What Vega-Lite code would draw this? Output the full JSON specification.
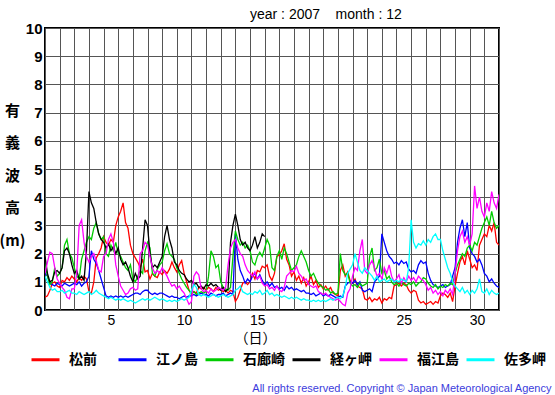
{
"$schema": "https://vega.github.io/schema/vega-lite/v6.json",
"width": 454, "height": 282,
"autosize": {"type": "none"},
"padding": {"left": 45, "top": 28, "right": 56, "bottom": 85},
"background": "white",
"config": {"view": {"stroke": "black", "strokeWidth": 2}},
"title": {"text": "year : 2007\u00a0\u00a0\u00a0 month : 12", "anchor": "start", "frame": "group", "dx": 205, "fontSize": 14, "fontWeight": "normal", "font": "Liberation Sans", "color": "black", "offset": -1},
"data": {"values": [
{"t":1,"松前":0.45,"江ノ島":1.3,"石廊崎":1.65,"経ヶ岬":1.9,"福江島":1.3,"佐多岬":1.2},
{"t":1.167,"松前":0.5,"江ノ島":1.2,"石廊崎":1.2,"経ヶ岬":1.3,"福江島":1.7,"佐多岬":1.0},
{"t":1.333,"松前":0.7,"江ノ島":0.95,"石廊崎":0.9,"経ヶ岬":1.0,"福江島":2.05,"佐多岬":0.8},
{"t":1.5,"松前":0.95,"江ノ島":0.9,"石廊崎":1.0,"経ヶ岬":1.05,"福江島":2.0,"佐多岬":0.7},
{"t":1.667,"松前":1.0,"江ノ島":0.85,"石廊崎":1.5,"経ヶ岬":1.35,"福江島":1.5,"佐多岬":0.75},
{"t":1.833,"松前":0.85,"江ノ島":0.95,"石廊崎":1.2,"経ヶ岬":1.4,"福江島":1.1,"佐多岬":0.65},
{"t":2,"松前":0.8,"江ノ島":0.9,"石廊崎":1.3,"経ヶ岬":1.3,"福江島":0.95,"佐多岬":0.65},
{"t":2.167,"松前":1.05,"江ノ島":0.85,"石廊崎":1.5,"経ヶ岬":1.5,"福江島":0.8,"佐多岬":0.7},
{"t":2.333,"松前":1.0,"江ノ島":0.95,"石廊崎":2.3,"経ヶ岬":2.1,"福江島":0.7,"佐多岬":0.6},
{"t":2.5,"松前":1.15,"江ノ島":0.9,"石廊崎":2.5,"経ヶ岬":2.2,"福江島":0.45,"佐多岬":0.65},
{"t":2.667,"松前":1.05,"江ノ島":0.85,"石廊崎":2.0,"経ヶ岬":2.0,"福江島":0.4,"佐多岬":0.7},
{"t":2.833,"松前":1.2,"江ノ島":0.9,"石廊崎":1.85,"経ヶ岬":1.6,"福江島":0.75,"佐多岬":0.6},
{"t":3,"松前":1.1,"江ノ島":0.95,"石廊崎":1.5,"経ヶ岬":1.3,"福江島":0.75,"佐多岬":0.6},
{"t":3.167,"松前":1.0,"江ノ島":0.9,"石廊崎":1.2,"経ヶ岬":1.4,"福江島":1.3,"佐多岬":0.55},
{"t":3.333,"松前":1.15,"江ノ島":1.0,"石廊崎":1.1,"経ヶ岬":1.1,"福江島":3.0,"佐多岬":0.65},
{"t":3.5,"松前":1.05,"江ノ島":0.85,"石廊崎":1.8,"経ヶ岬":1.2,"福江島":3.2,"佐多岬":0.6},
{"t":3.667,"松前":1.2,"江ノ島":0.95,"石廊崎":2.1,"経ヶ岬":1.05,"福江島":2.4,"佐多岬":0.55},
{"t":3.833,"松前":1.1,"江ノ島":1.0,"石廊崎":2.4,"経ヶ岬":2.1,"福江島":1.9,"佐多岬":0.6},
{"t":4,"松前":0.65,"江ノ島":1.2,"石廊崎":2.6,"経ヶ岬":4.2,"福江島":1.7,"佐多岬":0.65},
{"t":4.167,"松前":0.6,"江ノ島":2.1,"石廊崎":2.5,"経ヶ岬":3.8,"福江島":1.9,"佐多岬":0.55},
{"t":4.333,"松前":1.0,"江ノ島":1.8,"石廊崎":2.9,"経ヶ岬":3.6,"福江島":2.0,"佐多岬":0.6},
{"t":4.5,"松前":1.85,"江ノ島":1.65,"石廊崎":3.1,"経ヶ岬":3.1,"福江島":1.75,"佐多岬":0.7},
{"t":4.667,"松前":2.0,"江ノ島":1.4,"石廊崎":2.7,"経ヶ岬":2.7,"福江島":1.4,"佐多岬":0.6},
{"t":4.833,"松前":2.2,"江ノ島":1.1,"石廊崎":2.5,"経ヶ岬":2.5,"福江島":1.35,"佐多岬":0.55},
{"t":5,"松前":2.6,"江ノ島":0.8,"石廊崎":2.6,"経ヶ岬":2.4,"福江島":1.9,"佐多岬":0.5},
{"t":5.167,"松前":2.4,"江ノ島":0.5,"石廊崎":2.0,"経ヶ岬":2.2,"福江島":2.0,"佐多岬":0.45},
{"t":5.333,"松前":2.3,"江ノ島":0.45,"石廊崎":1.9,"経ヶ岬":2.35,"福江島":2.5,"佐多岬":0.4},
{"t":5.5,"松前":2.5,"江ノ島":0.5,"石廊崎":2.3,"経ヶ岬":2.1,"福江島":2.7,"佐多岬":0.45},
{"t":5.667,"松前":2.4,"江ノ島":0.45,"石廊崎":2.1,"経ヶ岬":2.25,"福江島":2.4,"佐多岬":0.4},
{"t":5.833,"松前":3.0,"江ノ島":0.5,"石廊崎":2.4,"経ヶ岬":2.0,"福江島":1.6,"佐多岬":0.35},
{"t":6,"松前":3.3,"江ノ島":0.45,"石廊崎":2.0,"経ヶ岬":2.2,"福江島":1.2,"佐多岬":0.4},
{"t":6.167,"松前":3.5,"江ノ島":0.5,"石廊崎":1.9,"経ヶ岬":1.8,"福江島":0.85,"佐多岬":0.35},
{"t":6.333,"松前":3.8,"江ノ島":0.45,"石廊崎":1.7,"経ヶ岬":1.6,"福江島":0.7,"佐多岬":0.4},
{"t":6.5,"松前":3.1,"江ノ島":0.5,"石廊崎":1.5,"経ヶ岬":1.7,"福江島":0.55,"佐多岬":0.35},
{"t":6.667,"松前":2.9,"江ノ島":0.45,"石廊崎":1.4,"経ヶ岬":1.5,"福江島":0.6,"佐多岬":0.3},
{"t":6.833,"松前":2.3,"江ノ島":0.5,"石廊崎":1.6,"経ヶ岬":1.2,"福江島":0.75,"佐多岬":0.35},
{"t":7,"松前":2.0,"江ノ島":0.55,"石廊崎":1.1,"経ヶ岬":1.0,"福江島":0.8,"佐多岬":0.3},
{"t":7.167,"松前":1.85,"江ノ島":0.6,"石廊崎":1.0,"経ヶ岬":1.3,"福江島":0.7,"佐多岬":0.25},
{"t":7.333,"松前":1.7,"江ノ島":0.6,"石廊崎":1.2,"経ヶ岬":1.1,"福江島":0.75,"佐多岬":0.3},
{"t":7.5,"松前":1.5,"江ノ島":0.55,"石廊崎":1.4,"経ヶ岬":1.2,"福江島":2.0,"佐多岬":0.35},
{"t":7.667,"松前":1.8,"江ノ島":0.65,"石廊崎":1.3,"経ヶ岬":2.2,"福江島":2.1,"佐多岬":0.4},
{"t":7.833,"松前":1.35,"江ノ島":0.7,"石廊崎":2.1,"経ヶ岬":3.2,"福江島":2.4,"佐多岬":0.35},
{"t":8,"松前":1.4,"江ノ島":0.7,"石廊崎":2.4,"経ヶ岬":3.0,"福江島":2.3,"佐多岬":0.4},
{"t":8.167,"松前":1.1,"江ノ島":0.6,"石廊崎":2.2,"経ヶ岬":2.0,"福江島":1.9,"佐多岬":0.35},
{"t":8.333,"松前":1.3,"江ノ島":0.55,"石廊崎":1.3,"経ヶ岬":1.5,"福江島":1.5,"佐多岬":0.4},
{"t":8.5,"松前":1.2,"江ノ島":0.6,"石廊崎":1.2,"経ヶ岬":1.6,"福江島":1.3,"佐多岬":0.45},
{"t":8.667,"松前":1.15,"江ノ島":0.55,"石廊崎":1.45,"経ヶ岬":1.5,"福江島":1.4,"佐多岬":0.4},
{"t":8.833,"松前":1.35,"江ノ島":0.6,"石廊崎":1.6,"経ヶ岬":1.7,"福江島":1.3,"佐多岬":0.35},
{"t":9,"松前":1.25,"江ノ島":0.6,"石廊崎":1.7,"経ヶ岬":1.9,"福江島":1.5,"佐多岬":0.4},
{"t":9.167,"松前":1.4,"江ノ島":0.55,"石廊崎":2.1,"経ヶ岬":2.6,"福江島":1.35,"佐多岬":0.35},
{"t":9.333,"松前":1.3,"江ノ島":0.5,"石廊崎":2.35,"経ヶ岬":3.0,"福江島":1.2,"佐多岬":0.3},
{"t":9.5,"松前":1.45,"江ノ島":0.45,"石廊崎":2.0,"経ヶ岬":2.5,"福江島":1.0,"佐多岬":0.35},
{"t":9.667,"松前":1.7,"江ノ島":0.5,"石廊崎":1.9,"経ヶ岬":2.2,"福江島":0.85,"佐多岬":0.3},
{"t":9.833,"松前":1.5,"江ノ島":0.45,"石廊崎":1.8,"経ヶ岬":1.7,"福江島":0.9,"佐多岬":0.35},
{"t":10,"松前":1.35,"江ノ島":0.45,"石廊崎":1.5,"経ヶ岬":1.6,"福江島":0.75,"佐多岬":0.3},
{"t":10.167,"松前":1.6,"江ノ島":0.4,"石廊崎":1.3,"経ヶ岬":1.4,"福江島":0.85,"佐多岬":0.35},
{"t":10.333,"松前":1.75,"江ノ島":0.45,"石廊崎":1.1,"経ヶ岬":1.3,"福江島":0.7,"佐多岬":0.4},
{"t":10.5,"松前":1.3,"江ノ島":0.5,"石廊崎":0.95,"経ヶ岬":1.25,"福江島":0.6,"佐多岬":0.35},
{"t":10.667,"松前":1.0,"江ノ島":0.45,"石廊崎":0.8,"経ヶ岬":1.1,"福江島":0.4,"佐多岬":0.4},
{"t":10.833,"松前":0.7,"江ノ島":0.5,"石廊崎":0.7,"経ヶ岬":1.0,"福江島":0.2,"佐多岬":0.45},
{"t":11,"松前":0.55,"江ノ島":0.5,"石廊崎":0.6,"経ヶ岬":1.05,"福江島":0.3,"佐多岬":0.7},
{"t":11.167,"松前":0.65,"江ノ島":0.55,"石廊崎":0.65,"経ヶ岬":0.9,"福江島":1.2,"佐多岬":0.9},
{"t":11.333,"松前":0.6,"江ノ島":0.5,"石廊崎":0.55,"経ヶ岬":0.95,"福江島":1.35,"佐多岬":0.8},
{"t":11.5,"松前":0.8,"江ノ島":0.55,"石廊崎":0.6,"経ヶ岬":0.8,"福江島":1.25,"佐多岬":0.55},
{"t":11.667,"松前":0.75,"江ノ島":0.6,"石廊崎":0.65,"経ヶ岬":0.85,"福江島":0.75,"佐多岬":0.5},
{"t":11.833,"松前":0.8,"江ノ島":0.55,"石廊崎":0.6,"経ヶ岬":0.75,"福江島":0.65,"佐多岬":0.55},
{"t":12,"松前":0.7,"江ノ島":0.55,"石廊崎":0.65,"経ヶ岬":0.9,"福江島":0.7,"佐多岬":0.5},
{"t":12.167,"松前":0.8,"江ノ島":0.5,"石廊崎":1.2,"経ヶ岬":0.85,"福江島":0.6,"佐多岬":0.45},
{"t":12.333,"松前":0.75,"江ノ島":0.6,"石廊崎":2.1,"経ヶ岬":0.95,"福江島":0.75,"佐多岬":0.5},
{"t":12.5,"松前":0.65,"江ノ島":0.55,"石廊崎":1.9,"経ヶ岬":0.85,"福江島":0.65,"佐多岬":0.55},
{"t":12.667,"松前":0.8,"江ノ島":0.5,"石廊崎":1.5,"経ヶ岬":0.9,"福江島":0.7,"佐多岬":0.5},
{"t":12.833,"松前":0.7,"江ノ島":0.55,"石廊崎":1.6,"経ヶ岬":0.8,"福江島":0.8,"佐多岬":0.45},
{"t":13,"松前":0.75,"江ノ島":0.55,"石廊崎":1.0,"経ヶ岬":0.7,"福江島":0.75,"佐多岬":0.5},
{"t":13.167,"松前":0.65,"江ノ島":0.6,"石廊崎":0.8,"経ヶ岬":0.8,"福江島":0.7,"佐多岬":0.55},
{"t":13.333,"松前":0.7,"江ノ島":0.5,"石廊崎":0.75,"経ヶ岬":0.65,"福江島":0.8,"佐多岬":0.5},
{"t":13.5,"松前":0.6,"江ノ島":0.55,"石廊崎":0.7,"経ヶ岬":0.75,"福江島":1.6,"佐多岬":0.45},
{"t":13.667,"松前":0.7,"江ノ島":0.6,"石廊崎":0.8,"経ヶ岬":2.4,"福江島":2.2,"佐多岬":0.5},
{"t":13.833,"松前":0.65,"江ノ島":0.55,"石廊崎":1.9,"経ヶ岬":3.0,"福江島":2.4,"佐多岬":0.55},
{"t":14,"松前":0.3,"江ノ島":2.7,"石廊崎":2.8,"経ヶ岬":3.4,"福江島":2.5,"佐多岬":0.7},
{"t":14.167,"松前":0.45,"江ノ島":1.8,"石廊崎":2.5,"経ヶ岬":3.0,"福江島":2.2,"佐多岬":0.75},
{"t":14.333,"松前":0.7,"江ノ島":1.4,"石廊崎":2.3,"経ヶ岬":2.5,"福江島":2.0,"佐多岬":0.85},
{"t":14.5,"松前":0.95,"江ノ島":1.2,"石廊崎":2.4,"経ヶ岬":2.3,"福江島":1.9,"佐多岬":0.65},
{"t":14.667,"松前":1.0,"江ノ島":0.95,"石廊崎":2.2,"経ヶ岬":2.4,"福江島":1.6,"佐多岬":0.6},
{"t":14.833,"松前":0.9,"江ノ島":1.1,"石廊崎":2.3,"経ヶ岬":2.2,"福江島":1.4,"佐多岬":0.55},
{"t":15,"松前":1.0,"江ノ島":1.0,"石廊崎":2.1,"経ヶ岬":2.1,"福江島":1.3,"佐多岬":0.6},
{"t":15.167,"松前":1.3,"江ノ島":1.2,"石廊崎":1.7,"経ヶ岬":2.3,"福江島":1.2,"佐多岬":0.55},
{"t":15.333,"松前":1.1,"江ノ島":1.3,"石廊崎":1.6,"経ヶ岬":2.6,"福江島":1.35,"佐多岬":0.65},
{"t":15.5,"松前":1.4,"江ノ島":1.1,"石廊崎":1.9,"経ヶ岬":2.2,"福江島":1.1,"佐多岬":0.6},
{"t":15.667,"松前":1.35,"江ノ島":1.25,"石廊崎":2.05,"経ヶ岬":2.4,"福江島":1.2,"佐多岬":0.7},
{"t":15.833,"松前":1.55,"江ノ島":1.05,"石廊崎":1.9,"経ヶ岬":2.7,"福江島":0.95,"佐多岬":0.55},
{"t":16,"松前":1.5,"江ノ島":0.9,"石廊崎":2.2,"経ヶ岬":2.6,"福江島":0.85,"佐多岬":0.6},
{"t":16.167,"松前":1.6,"江ノ島":1.0,"石廊崎":2.5,"福江島":0.9,"佐多岬":0.7},
{"t":16.333,"松前":1.2,"江ノ島":0.85,"石廊崎":2.3,"福江島":0.75,"佐多岬":0.55},
{"t":16.5,"松前":1.05,"江ノ島":0.95,"石廊崎":1.5,"福江島":0.8,"佐多岬":0.6},
{"t":16.667,"松前":1.3,"江ノ島":0.8,"石廊崎":1.4,"福江島":0.7,"佐多岬":0.5},
{"t":16.833,"松前":1.9,"江ノ島":0.85,"石廊崎":1.9,"福江島":0.85,"佐多岬":0.55},
{"t":17,"松前":1.95,"江ノ島":0.75,"石廊崎":2.1,"福江島":0.7,"佐多岬":0.5},
{"t":17.167,"松前":2.1,"江ノ島":0.8,"石廊崎":1.8,"福江島":0.65,"佐多岬":0.45},
{"t":17.333,"松前":2.35,"江ノ島":0.7,"石廊崎":2.2,"福江島":0.8,"佐多岬":0.5},
{"t":17.5,"松前":1.8,"江ノ島":0.85,"石廊崎":2.0,"福江島":1.2,"佐多岬":0.45},
{"t":17.667,"松前":1.6,"江ノ島":0.75,"石廊崎":1.7,"福江島":1.3,"佐多岬":0.4},
{"t":17.833,"松前":1.2,"江ノ島":0.8,"石廊崎":1.4,"福江島":1.4,"佐多岬":0.45},
{"t":18,"松前":1.35,"江ノ島":0.7,"石廊崎":1.5,"福江島":1.35,"佐多岬":0.4},
{"t":18.167,"松前":1.05,"江ノ島":0.75,"石廊崎":1.6,"福江島":1.55,"佐多岬":0.45},
{"t":18.333,"松前":1.2,"江ノ島":0.7,"石廊崎":1.9,"福江島":1.3,"佐多岬":0.4},
{"t":18.5,"松前":0.95,"江ノ島":0.65,"石廊崎":2.1,"福江島":1.2,"佐多岬":0.35},
{"t":18.667,"松前":1.15,"江ノ島":0.7,"石廊崎":1.9,"福江島":1.05,"佐多岬":0.4},
{"t":18.833,"松前":0.85,"江ノ島":0.6,"石廊崎":1.7,"福江島":1.1,"佐多岬":0.35},
{"t":19,"松前":1.0,"江ノ島":0.6,"石廊崎":1.4,"福江島":0.9,"佐多岬":0.35},
{"t":19.167,"松前":1.2,"江ノ島":0.55,"石廊崎":1.2,"福江島":0.85,"佐多岬":0.3},
{"t":19.333,"松前":0.9,"江ノ島":0.6,"石廊崎":1.3,"福江島":0.8,"佐多岬":0.35},
{"t":19.5,"松前":1.05,"江ノ島":0.5,"石廊崎":1.1,"福江島":0.85,"佐多岬":0.3},
{"t":19.667,"松前":0.8,"江ノ島":0.55,"石廊崎":0.95,"福江島":0.65,"佐多岬":0.35},
{"t":19.833,"松前":0.9,"江ノ島":0.6,"石廊崎":0.85,"福江島":0.6,"佐多岬":0.3},
{"t":20,"松前":0.75,"江ノ島":0.5,"石廊崎":0.8,"福江島":0.55,"佐多岬":0.35},
{"t":20.167,"松前":0.85,"江ノ島":0.55,"石廊崎":0.7,"福江島":0.6,"佐多岬":0.3},
{"t":20.333,"松前":0.7,"江ノ島":0.5,"石廊崎":0.75,"福江島":0.5,"佐多岬":0.35},
{"t":20.5,"松前":0.8,"江ノ島":0.55,"石廊崎":0.6,"福江島":0.45,"佐多岬":0.4},
{"t":20.667,"松前":0.6,"江ノ島":0.5,"石廊崎":0.65,"福江島":0.4,"佐多岬":0.35},
{"t":20.833,"松前":0.55,"江ノ島":0.45,"石廊崎":0.55,"福江島":0.35,"佐多岬":0.4},
{"t":21,"松前":0.5,"江ノ島":0.45,"石廊崎":0.6,"福江島":0.4,"佐多岬":0.45},
{"t":21.167,"松前":1.4,"江ノ島":0.5,"石廊崎":2.0,"福江島":0.3,"佐多岬":0.4},
{"t":21.333,"松前":1.6,"江ノ島":0.45,"石廊崎":1.4,"福江島":0.2,"佐多岬":0.5},
{"t":21.5,"松前":1.2,"江ノ島":0.85,"石廊崎":1.25,"福江島":0.15,"佐多岬":0.8},
{"t":21.667,"松前":1.35,"江ノ島":0.95,"石廊崎":1.3,"福江島":0.6,"佐多岬":1.3},
{"t":21.833,"松前":1.05,"江ノ島":1.0,"石廊崎":0.95,"福江島":0.75,"佐多岬":1.45},
{"t":22,"松前":0.95,"江ノ島":0.95,"石廊崎":0.85,"福江島":1.2,"佐多岬":1.6},
{"t":22.167,"松前":1.1,"江ノ島":1.05,"石廊崎":0.9,"福江島":1.5,"佐多岬":2.0},
{"t":22.333,"松前":0.85,"江ノ島":0.9,"石廊崎":0.8,"福江島":1.4,"佐多岬":1.7},
{"t":22.5,"松前":0.8,"江ノ島":1.0,"石廊崎":0.95,"福江島":2.1,"佐多岬":1.4},
{"t":22.667,"松前":0.75,"江ノ島":0.7,"石廊崎":0.85,"福江島":2.5,"佐多岬":1.3},
{"t":22.833,"松前":0.4,"江ノ島":0.65,"石廊崎":0.9,"福江島":1.4,"佐多岬":1.5},
{"t":23,"松前":0.35,"江ノ島":0.7,"石廊崎":0.95,"福江島":1.3,"佐多岬":1.4},
{"t":23.167,"松前":0.45,"江ノ島":0.75,"石廊崎":1.9,"福江島":1.6,"佐多岬":1.3},
{"t":23.333,"松前":0.3,"江ノ島":0.65,"石廊崎":2.2,"福江島":1.75,"佐多岬":1.2},
{"t":23.5,"松前":0.4,"江ノ島":1.0,"石廊崎":1.4,"福江島":1.5,"佐多岬":1.05},
{"t":23.667,"松前":0.35,"江ノ島":1.1,"石廊崎":1.5,"福江島":1.2,"佐多岬":1.2},
{"t":23.833,"松前":0.45,"江ノ島":1.2,"石廊崎":1.8,"福江島":1.3,"佐多岬":1.0},
{"t":24,"松前":0.25,"江ノ島":2.7,"石廊崎":1.3,"福江島":1.1,"佐多岬":1.05},
{"t":24.167,"松前":0.4,"江ノ島":2.4,"石廊崎":1.4,"福江島":1.5,"佐多岬":1.1},
{"t":24.333,"松前":0.35,"江ノ島":2.1,"石廊崎":1.1,"福江島":1.3,"佐多岬":1.0},
{"t":24.5,"松前":0.45,"江ノ島":1.9,"石廊崎":1.2,"福江島":1.6,"佐多岬":1.05},
{"t":24.667,"松前":0.4,"江ノ島":1.8,"石廊崎":1.0,"福江島":1.2,"佐多岬":1.1},
{"t":24.833,"松前":0.85,"江ノ島":1.65,"石廊崎":0.9,"福江島":1.0,"佐多岬":1.0},
{"t":25,"松前":0.9,"江ノ島":1.7,"石廊崎":0.95,"福江島":1.1,"佐多岬":1.05},
{"t":25.167,"松前":0.95,"江ノ島":1.6,"石廊崎":0.85,"福江島":1.25,"佐多岬":1.0},
{"t":25.333,"松前":0.85,"江ノ島":1.75,"石廊崎":1.0,"福江島":0.95,"佐多岬":1.1},
{"t":25.5,"松前":0.95,"江ノ島":1.65,"石廊崎":0.9,"福江島":1.15,"佐多岬":1.05},
{"t":25.667,"松前":0.9,"江ノ島":1.7,"石廊崎":0.85,"福江島":1.0,"佐多岬":1.0},
{"t":25.833,"松前":0.7,"江ノ島":1.45,"石廊崎":0.95,"福江島":1.2,"佐多岬":1.5},
{"t":26,"松前":0.6,"江ノ島":1.35,"石廊崎":0.9,"福江島":1.05,"佐多岬":3.2},
{"t":26.167,"松前":0.7,"江ノ島":1.4,"石廊崎":1.0,"福江島":1.15,"佐多岬":2.4},
{"t":26.333,"松前":0.65,"江ノ島":1.3,"石廊崎":0.85,"福江島":1.0,"佐多岬":2.2},
{"t":26.5,"松前":0.35,"江ノ島":1.6,"石廊崎":0.95,"福江島":1.2,"佐多岬":2.35},
{"t":26.667,"松前":0.25,"江ノ島":1.75,"石廊崎":1.0,"福江島":1.1,"佐多岬":2.3},
{"t":26.833,"松前":0.3,"江ノ島":1.65,"石廊崎":1.15,"福江島":1.05,"佐多岬":2.45},
{"t":27,"松前":0.2,"江ノ島":1.7,"石廊崎":1.1,"福江島":0.9,"佐多岬":2.3},
{"t":27.167,"松前":0.25,"江ノ島":1.3,"石廊崎":0.95,"福江島":0.7,"佐多岬":2.5},
{"t":27.333,"松前":0.3,"江ノ島":1.05,"石廊崎":0.85,"福江島":0.8,"佐多岬":2.4},
{"t":27.5,"松前":0.2,"江ノ島":0.9,"石廊崎":0.8,"福江島":0.6,"佐多岬":2.6},
{"t":27.667,"松前":0.3,"江ノ島":0.85,"石廊崎":0.9,"福江島":0.7,"佐多岬":2.7},
{"t":27.833,"松前":0.25,"江ノ島":0.8,"石廊崎":0.75,"福江島":0.55,"佐多岬":2.5},
{"t":28,"松前":0.5,"江ノ島":0.85,"石廊崎":0.85,"福江島":0.65,"佐多岬":2.5},
{"t":28.167,"松前":0.6,"江ノ島":0.9,"石廊崎":0.8,"福江島":0.5,"佐多岬":2.1},
{"t":28.333,"松前":0.55,"江ノ島":0.8,"石廊崎":0.9,"福江島":0.7,"佐多岬":1.8},
{"t":28.5,"松前":0.45,"江ノ島":0.85,"石廊崎":0.85,"福江島":0.6,"佐多岬":1.5},
{"t":28.667,"松前":0.6,"江ノ島":0.9,"石廊崎":0.95,"福江島":0.75,"佐多岬":1.3},
{"t":28.833,"松前":0.3,"江ノ島":1.2,"石廊崎":0.9,"福江島":0.55,"佐多岬":1.0},
{"t":29,"松前":0.85,"江ノ島":1.5,"石廊崎":1.3,"福江島":1.3,"佐多岬":0.85},
{"t":29.167,"松前":1.3,"江ノ島":2.4,"石廊崎":1.6,"福江島":2.1,"佐多岬":0.75},
{"t":29.333,"松前":1.7,"江ノ島":2.9,"石廊崎":1.8,"福江島":2.6,"佐多岬":0.65},
{"t":29.5,"松前":1.9,"江ノ島":3.2,"石廊崎":2.0,"福江島":2.8,"佐多岬":0.8},
{"t":29.667,"松前":1.6,"江ノ島":2.6,"石廊崎":1.9,"福江島":2.4,"佐多岬":0.6},
{"t":29.833,"松前":2.1,"江ノ島":3.1,"石廊崎":2.2,"福江島":2.6,"佐多岬":0.7},
{"t":30,"松前":1.8,"江ノ島":2.2,"石廊崎":2.3,"福江島":2.3,"佐多岬":0.55},
{"t":30.167,"松前":1.5,"江ノ島":2.0,"石廊崎":2.1,"福江島":2.7,"佐多岬":0.7},
{"t":30.333,"松前":1.6,"江ノ島":1.9,"石廊崎":2.4,"福江島":4.4,"佐多岬":0.6},
{"t":30.5,"松前":1.4,"江ノ島":1.7,"石廊崎":2.3,"福江島":3.6,"佐多岬":0.75},
{"t":30.667,"松前":2.3,"江ノ島":1.8,"石廊崎":2.6,"福江島":4.0,"佐多岬":1.1},
{"t":30.833,"松前":2.5,"江ノ島":1.6,"石廊崎":2.9,"福江島":3.5,"佐多岬":0.65},
{"t":31,"松前":2.7,"江ノ島":1.3,"石廊崎":3.1,"福江島":3.3,"佐多岬":0.6},
{"t":31.167,"松前":2.6,"江ノ島":1.2,"石廊崎":3.3,"福江島":3.8,"佐多岬":0.75},
{"t":31.333,"松前":3.0,"江ノ島":1.0,"石廊崎":3.0,"福江島":3.5,"佐多岬":0.55},
{"t":31.5,"松前":2.8,"江ノ島":1.1,"石廊崎":3.5,"福江島":4.2,"佐多岬":0.7},
{"t":31.667,"松前":3.1,"江ノ島":0.95,"石廊崎":3.1,"福江島":3.8,"佐多岬":0.6},
{"t":31.833,"松前":2.4,"江ノ島":0.85,"石廊崎":2.9,"福江島":3.6,"佐多岬":0.55},
{"t":32,"松前":2.3,"江ノ島":0.8,"石廊崎":3.0,"福江島":4.1,"佐多岬":0.6}
]},
"transform": [{"fold": ["松前","江ノ島","石廊崎","経ヶ岬","福江島","佐多岬"], "as": ["site","h"]}],
"layer": [
{
"mark": {"type": "line", "strokeWidth": 1.3, "clip": true},
"encoding": {
"x": {"field": "t", "type": "quantitative",
  "scale": {"domain": [1, 32], "nice": false, "zero": false},
  "axis": {"values": [1,2,3,4,5,6,7,8,9,10,11,12,13,14,15,16,17,18,19,20,21,22,23,24,25,26,27,28,29,30,31,32],
    "labelExpr": "datum.value % 5 == 0 ? datum.value : ''",
    "labelOffset": 7.3, "ticks": false, "domain": false, "grid": true, "gridColor": "#555555", "gridWidth": 1, "gridOpacity": 1,
    "labelFontSize": 14, "labelFont": "Liberation Sans", "labelColor": "black", "labelPadding": 3, "labelFlush": false, "labelOverlap": false,
    "title": "（日）", "titleFont": "Noto Sans CJK JP", "titleFontSize": 14, "titleFontWeight": "normal", "titleColor": "black",
    "titleX": 210, "titleY": 28, "titleBaseline": "middle", "titleAlign": "center"}},
"y": {"field": "h", "type": "quantitative",
  "scale": {"domain": [0, 10], "nice": false},
  "axis": {"values": [0,1,2,3,4,5,6,7,8,9,10], "ticks": false, "domain": false, "grid": true, "gridColor": "#555555", "gridWidth": 1, "gridOpacity": 1,
    "labelFontSize": 15, "labelFontWeight": "bold", "labelFont": "Liberation Sans", "labelColor": "black", "labelPadding": 3, "labelFlush": false,
    "title": ["有", "義", "波", "高", "(m)"], "titleAngle": 0, "titleX": -33, "titleY": 82, "titleAlign": "center", "titleBaseline": "middle",
    "titleLineHeight": 32.5, "titleFont": "Noto Sans CJK JP", "titleFontSize": 15, "titleFontWeight": "bold", "titleColor": "black"}},
"color": {"field": "site", "type": "nominal",
  "scale": {"domain": ["松前","江ノ島","石廊崎","経ヶ岬","福江島","佐多岬"], "range": ["#ff0000","#0000ff","#00cc00","#000000","#ff00ff","#00ffff"]},
  "legend": {"orient": "none", "legendX": -15, "legendY": 316, "direction": "horizontal", "columns": 6, "title": null,
    "symbolType": "stroke", "symbolSize": 784, "symbolStrokeWidth": 3, "labelFont": "Noto Sans CJK JP", "labelFontSize": 14, "labelFontWeight": "bold",
    "labelOffset": 8, "columnPadding": 1, "gridAlign": "all", "padding": 0, "labelColor": "black", "labelLimit": 0}}
}
},
{
"transform": [{"filter": "datum.t == 1"}],
"mark": {"type": "point", "opacity": 0},
"encoding": {
"x": {"field": "t", "type": "quantitative",
  "axis": {"orient": "bottom", "domain": false, "ticks": false, "labels": false, "grid": false,
    "title": "All rights reserved. Copyright © Japan Meteorological Agency",
    "titleX": 506, "titleY": 78, "titleAlign": "right", "titleBaseline": "middle",
    "titleFont": "Liberation Sans", "titleFontSize": 11, "titleFontWeight": "normal", "titleColor": "#3c3cdc"}}
}
}
],
"resolve": {"axis": {"x": "independent"}}
}
